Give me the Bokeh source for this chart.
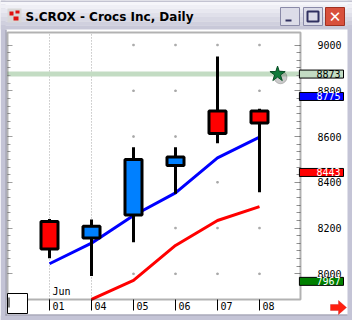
from bokeh.plotting import figure
from bokeh.models import (Range1d, LinearAxis, FixedTicker, BoxAnnotation, Label,
                          PolyAnnotation, ColumnDataSource)
from bokeh.embed import file_html
from bokeh.resources import INLINE
from bokeh.core.properties import value

# ---------------- data ----------------
days = ["01", "04", "05", "06", "07", "08"]
day_idx = [0, 1, 2, 3, 4, 5]
opens  = [8229, 8157, 8257, 8473, 8712, 8712]
highs  = [8240, 8237, 8553, 8553, 8950, 8721]
lows   = [8068, 7990, 8138, 8350, 8571, 8357]
closes = [8108, 8208, 8500, 8510, 8613, 8659]
ma_fast = [8044, 8134, 8255, 8354, 8507, 8597]
ma_slow_idx = [1, 2, 3, 4, 5]
ma_slow = [7888, 7971, 8124, 8233, 8294]
price_ticks = [8000, 8200, 8400, 8600, 8800, 9000]
alert_level = 8873
alert_x = 5.43
tag_values = [8873, 8775, 8443, 7967]
tag_fill = ["#c3dcc3", "#0000ff", "#ff0000", "#008000"]
tag_text = ["#000000", "#ffffff", "#ffffff", "#ffffff"]
title_text = "S.CROX - Crocs Inc, Daily"

# plot-area extent in data terms
X_LO, X_HI = -1.0, 5.976
Y_LO, Y_HI = 7888, 9055

W, H = 352, 320

def sy(y):  # top-based pixel -> screen units (measured from bottom)
    return H - y

p = figure(width=W, height=H, output_backend="svg", toolbar_location=None,
           x_range=Range1d(-1.1667, 7.2143), y_range=Range1d(7796, 9194.5),
           min_border=0, x_axis_location=None, y_axis_location=None)
p.title.visible = False
p.background_fill_color = "white"
p.border_fill_color = "white"
p.outline_line_color = None
p.xgrid.visible = False
p.ygrid.visible = False

# dotted grid
for i in day_idx[:2]:
    p.segment(x0=[i], y0=[Y_LO], x1=[i], y1=[Y_HI], line_color="#a8a8a8",
              line_dash="1 2", line_width=1)
gx, gy = [], []
for i in day_idx[2:]:
    for lv in price_ticks:
        gx.append(i)
        gy.append(lv)
p.scatter(gx, gy, marker="square", size=1.5, color="#a8a8a8")

# alert line
p.segment(x0=[X_LO], y0=[alert_level], x1=[X_HI], y1=[alert_level],
          line_color="#c3dcc3", line_width=5)

# moving averages
p.line(day_idx, ma_fast, line_color="#0000ff", line_width=3)
p.line(ma_slow_idx, ma_slow, line_color="#ff0000", line_width=3)

# candles
src = ColumnDataSource(dict(
    x=day_idx, o=opens, h=highs, l=lows, c=closes,
    top=[max(a, b) for a, b in zip(opens, closes)],
    bot=[min(a, b) for a, b in zip(opens, closes)],
    col=["#0080ff" if c >= o else "#ff0000" for o, c in zip(opens, closes)],
))
p.segment(x0="x", y0="l", x1="x", y1="h", source=src, line_color="black", line_width=3)
p.vbar(x="x", width=0.405, top="top", bottom="bot", source=src, fill_color="col",
       line_color="black", line_width=3)

# alert star
p.scatter([alert_x + 0.07], [alert_level - 14], marker="circle", size=13,
          color="#505050", alpha=0.3)
p.scatter([alert_x], [alert_level], marker="star", size=16, fill_color="#0f7a3a",
          line_color="#064d22", line_width=1)

# ---------------- axes (inside the canvas) ----------------
minor = []
for a, b in zip(price_ticks[:-1], price_ticks[1:]):
    for k in range(1, 6):
        minor.append(a + (b - a) * k / 6)

ra = LinearAxis(ticker=FixedTicker(ticks=price_ticks, minor_ticks=minor),
                fixed_location=X_HI)
ra.major_tick_in = 6
ra.major_tick_out = 0
ra.minor_tick_in = 4
ra.minor_tick_out = 0
ra.axis_line_color = None
ra.major_tick_line_color = "#909090"
ra.minor_tick_line_color = "#909090"
ra.major_label_standoff = 17
ra.major_label_text_font = "DejaVu Sans Mono"
ra.major_label_text_font_size = "10px"
ra.major_label_text_color = "black"
p.add_layout(ra, "right")

la = LinearAxis(ticker=FixedTicker(ticks=price_ticks, minor_ticks=minor),
                fixed_location=X_LO)
la.major_tick_in = 5
la.major_tick_out = 0
la.minor_tick_in = 3
la.minor_tick_out = 0
la.axis_line_color = None
la.major_tick_line_color = "#a0a0a0"
la.minor_tick_line_color = "#a0a0a0"
la.major_label_text_color = None
p.add_layout(la, "left")

ba = LinearAxis(ticker=FixedTicker(ticks=day_idx, minor_ticks=[]), fixed_location=Y_LO)
ba.major_tick_in = 0
ba.major_tick_out = 11
ba.major_tick_line_color = "black"
ba.axis_line_color = None
ba.major_label_text_color = None
p.add_layout(ba, "below")

# date labels, just right of each tick
p.text(x=day_idx, y=[Y_LO] * len(days), text=days, x_offset=3, y_offset=3,
       text_baseline="top", text_align="left", text_font=value("DejaVu Sans Mono"),
       text_font_size="10px", text_color="black")

# plot frame
p.add_layout(BoxAnnotation(left=X_LO, right=X_HI, bottom=Y_LO, top=Y_HI,
                           fill_alpha=0, line_color="black", line_width=2, level="overlay"))

# Jun label
p.add_layout(Label(x=0, y=Y_LO, text="Jun", x_offset=3, y_offset=2,
                   text_baseline="bottom", text_font="DejaVu Sans Mono",
                   text_font_size="10px", text_color="black"))

# ---------------- window chrome ----------------
def box(l, t, r, b, fill, line=None, lw=1):
    p.add_layout(BoxAnnotation(left=l, right=r, top=sy(t), bottom=sy(b),
                               left_units="screen", right_units="screen",
                               top_units="screen", bottom_units="screen",
                               fill_color=fill if fill else "white",
                               fill_alpha=1 if fill else 0,
                               line_color=line if line else "black",
                               line_width=lw, line_alpha=1 if line else 0,
                               level="overlay"))

# borders
box(0, 0, 5, H, "#c4c4d6")
box(347, 0, W, H, "#c4c4d6")
box(0, 315, W, H, "#c4c4d6")
box(5, 29, 6, 315, "#808098")
box(5, 314, 347, 315, "#808098")
# title bar gradient
grad = ["#f6f6fa", "#efeff5", "#e8e8f0", "#e0e0ea", "#d8d8e4", "#d0d0de", "#c8c8d8"]
for k, c in enumerate(grad):
    box(0, k * 29 / len(grad), W, (k + 1) * 29 / len(grad), c)
box(0, 0, W, 1, "#9090a8")
# icon
box(7, 8, 21, 22, "#d8d8d8")
box(9, 11, 13, 15, "#e01010")
box(15, 10, 19, 13, "#e01010")
box(13, 16, 18, 20, "#e01010")
# buttons
box(280, 7, 299, 25, "#dcdce8", "#8a8aa8")
box(285, 19, 291, 21, "#303060")
box(303, 7, 322, 25, "#dcdce8", "#8a8aa8")
box(307, 11, 318, 21, None, "#303060", 2)
box(325, 7, 344, 25, "#d8503c", "#a03020")

p.add_layout(Label(x=334.5, y=sy(16), x_units="screen", y_units="screen", text="✕",
                   text_align="center", text_baseline="middle", text_color="white",
                   text_font="DejaVu Sans", text_font_size="15px",
                   text_font_style="bold", level="overlay"))
p.add_layout(Label(x=25, y=sy(16), x_units="screen", y_units="screen", text=title_text,
                   text_align="left", text_baseline="middle", text_color="black",
                   text_font="DejaVu Sans", text_font_size="12px",
                   text_font_style="bold", level="overlay"))

# bottom-left small box
box(7, 293, 27, 313, "#ffffff", "#000000", 1)
box(8, 297, 9, 307, "#000000")

# price tags
for v, fc, tc in zip(tag_values, tag_fill, tag_text):
    p.add_layout(Label(x=343, x_units="screen", y=v, text=str(v), text_align="right",
                       text_baseline="middle", text_font="DejaVu Sans Mono",
                       text_font_size="10px", text_color=tc,
                       background_fill_color=fc, border_line_color="black",
                       padding=dict(left=17, right=3, top=0, bottom=0),
                       level="overlay"))

# red arrow
p.add_layout(PolyAnnotation(xs=[330, 338, 338, 346, 338, 338, 330],
                            ys=[sy(304), sy(304), sy(300), sy(307), sy(314), sy(310), sy(310)],
                            xs_units="screen", ys_units="screen",
                            fill_color="#ff2010", fill_alpha=1, line_color="#c00000",
                            line_width=1, level="overlay"))

open("out.html", "w").write(file_html(p, INLINE))
